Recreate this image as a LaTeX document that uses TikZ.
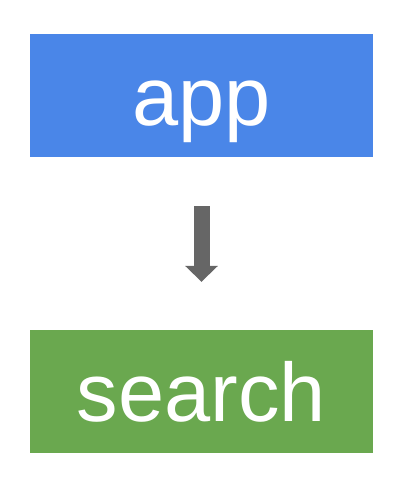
\documentclass[tikz,border=0pt]{standalone}
\usepackage{fontspec}
\setmainfont{Liberation Sans}
\usepackage{tikz}
\usetikzlibrary{arrows.meta}

\definecolor{appblue}{HTML}{4A86E8}
\definecolor{searchgreen}{HTML}{6AA84F}
\definecolor{arrowgray}{HTML}{666666}

\begin{document}
\begin{tikzpicture}[x=1pt,y=-1pt,
    modbox/.style={minimum width=343pt, inner sep=0pt, text height=91.5pt,
        text depth=31.5pt, text=white, font=\fontsize{83}{90}\selectfont}]
                    \useasboundingbox (0,0) rectangle (400,484);
                    \node[modbox,fill=appblue] (app) at (201.5,95.5) {app};
                    \node[modbox,fill=searchgreen] (search) at (201.5,391.5) {search};
                    \draw[arrowgray,line width=16pt,shorten <=49pt,shorten >=48pt,
                        -{Triangle[width=32pt,length=16pt]}]
                        (app.south) -- (search.north);
                \end{tikzpicture}
\end{document}
